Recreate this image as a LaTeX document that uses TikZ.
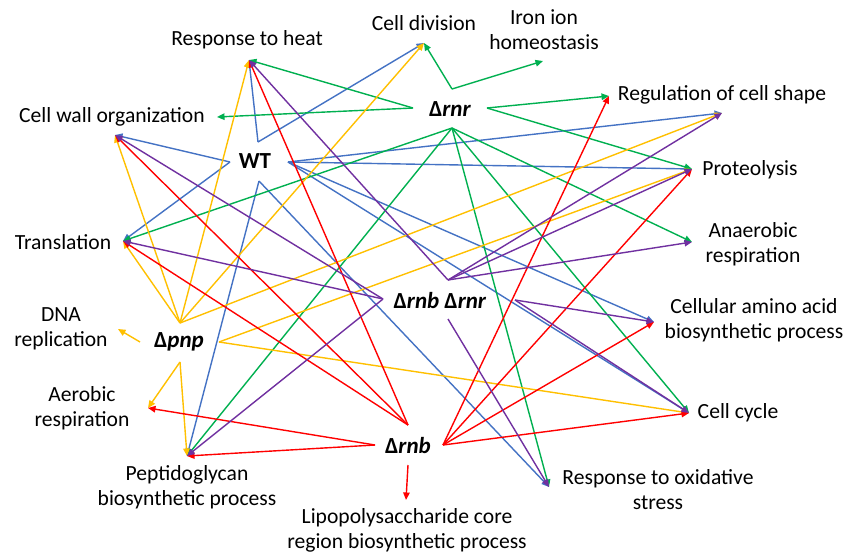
\documentclass[tikz,border=0pt]{standalone}
\usepackage{fontspec}
\setmainfont{Carlito}
\usetikzlibrary{arrows.meta}
\definecolor{cBlue}{RGB}{68,114,196}
\definecolor{cGreen}{RGB}{0,176,80}
\definecolor{cYellow}{RGB}{255,192,0}
\definecolor{cRed}{RGB}{255,0,0}
\definecolor{cPurple}{RGB}{112,48,160}
\tikzset{
  lbl/.style={inner sep=0pt, align=center, font=\fontsize{21.6}{25}\selectfont, text=black},
  src/.style={inner sep=0pt, font=\fontsize{23}{27}\selectfont\bfseries, text=black},
  link/.style={line width=1.4pt, -{Triangle[length=7.5pt,width=6.5pt]}},
  wtl/.style={link, draw=cBlue},
  rnrl/.style={link, draw=cGreen},
  pnpl/.style={link, draw=cYellow},
  rnbl/.style={link, draw=cRed},
  ddl/.style={link, draw=cPurple},
}
\begin{document}
\begin{tikzpicture}[x=1pt,y=-1pt]
\useasboundingbox (0,0) rectangle (845,554);
\fill[white] (0,0) rectangle (845,554);

% target labels
\node[lbl] (heat) at (247,40) {Response to heat};
\node[lbl] (celldiv) at (424,23) {Cell division};
\node[lbl] (iron) at (544,29.5) {Iron ion\\homeostasis};
\node[lbl] (cellwall) at (112,117) {Cell wall organization};
\node[lbl] (regshape) at (722,95) {Regulation of cell shape};
\node[lbl] (proteo) at (750,170) {Proteolysis};
\node[lbl] (transl) at (63,242) {Translation};
\node[lbl] (anaer) at (753,244.5) {Anaerobic\\respiration};
\node[lbl] (dna) at (61,328.5) {DNA\\replication};
\node[lbl] (amino) at (754,320.5) {Cellular amino acid\\biosynthetic process};
\node[lbl] (aerob) at (82,408.5) {Aerobic\\respiration};
\node[lbl] (cycle) at (738,413) {Cell cycle};
\node[lbl] (peptido) at (187,487.5) {Peptidoglycan\\biosynthetic process};
\node[lbl] (oxid) at (658,489.5) {Response to oxidative\\stress};
\node[lbl] (lps) at (407,530) {Lipopolysaccharide core\\region biosynthetic process};

% source labels
\node[src] (wt) at (255,161) {WT};
\node[src] (rnr) at (450,109) {Δ\textit{rnr}};
\node[src] (dd) at (440,301) {Δ\textit{rnb} Δ\textit{rnr}};
\node[src] (pnp) at (179,342) {Δ\textit{pnp}};
\node[src] (rnb) at (408,446) {Δ\textit{rnb}};

% source ports
\coordinate (wtT) at (258,142); \coordinate (wtL) at (230,162);
\coordinate (wtR) at (288,162); \coordinate (wtB) at (259,181);
\coordinate (rnrT) at (452,89); \coordinate (rnrL) at (413,108);
\coordinate (rnrR) at (487,108); \coordinate (rnrB) at (452,128);
\coordinate (dT) at (448,280); \coordinate (dL) at (383,299);
\coordinate (dR) at (515,300); \coordinate (dB) at (448,319);
\coordinate (pnpT) at (180,323); \coordinate (pnpL) at (140,342);
\coordinate (pnpR) at (219,342); \coordinate (pnpB) at (180,362);
\coordinate (rnbT) at (408,425); \coordinate (rnbL) at (375,445);
\coordinate (rnbR) at (443,445); \coordinate (rnbB) at (408,465);

% target tips
\coordinate (heatIn) at (249,60);
\coordinate (celldivIn) at (424,43);
\coordinate (ironIn) at (543,61);
\coordinate (cellwallIn) at (115,135);
\coordinate (cellwallR) at (217,117);
\coordinate (regshapeIn) at (722,113);
\coordinate (regshapeL) at (609,96);
\coordinate (proteoIn) at (692,169);
\coordinate (translIn) at (123,241);
\coordinate (dnaIn) at (118,329);
\coordinate (anaerIn) at (692,242);
\coordinate (aminoIn) at (654,322);
\coordinate (aerobIn) at (148,408);
\coordinate (peptidoIn) at (187,456);
\coordinate (cycleIn) at (689,413);
\coordinate (oxidIn) at (549,487);
\coordinate (lpsIn) at (406,500);

% WT (blue)
\draw[wtl] (wtT) -- (heatIn);
\draw[wtl] (wtT) -- (celldivIn);
\draw[wtl] (wtL) -- (cellwallIn);
\draw[wtl] (wtL) -- (translIn);
\draw[wtl] (wtR) -- (regshapeIn);
\draw[wtl] (wtR) -- (proteoIn);
\draw[wtl] (wtR) -- (aminoIn);
\draw[wtl] (wtR) -- (cycleIn);
\draw[wtl] (wtB) -- (peptidoIn);
\draw[wtl] (wtB) -- (oxidIn);

% Δrnr (green)
\draw[rnrl] (rnrT) -- (celldivIn);
\draw[rnrl] (rnrT) -- (ironIn);
\draw[rnrl] (rnrL) -- (heatIn);
\draw[rnrl] (rnrL) -- (cellwallR);
\draw[rnrl] (rnrR) -- (regshapeL);
\draw[rnrl] (rnrR) -- (proteoIn);
\draw[rnrl] (rnrB) -- (translIn);
\draw[rnrl] (rnrB) -- (peptidoIn);
\draw[rnrl] (rnrB) -- (anaerIn);
\draw[rnrl] (rnrB) -- (cycleIn);
\draw[rnrl] (rnrB) -- (oxidIn);

% Δpnp (yellow)
\draw[pnpl] (pnpT) -- (translIn);
\draw[pnpl] (pnpT) -- (cellwallIn);
\draw[pnpl] (pnpT) -- (heatIn);
\draw[pnpl] (pnpT) -- (celldivIn);
\draw[pnpl] (pnpT) -- (regshapeIn);
\draw[pnpl] (pnpR) -- (proteoIn);
\draw[pnpl] (pnpR) -- (cycleIn);
\draw[pnpl] (pnpL) -- (dnaIn);
\draw[pnpl] (pnpB) -- (aerobIn);
\draw[pnpl] (pnpB) -- (peptidoIn);

% Δrnb (red)
\draw[rnbl] (rnbT) -- (heatIn);
\draw[rnbl] (rnbT) -- (cellwallIn);
\draw[rnbl] (rnbT) -- (translIn);
\draw[rnbl] (rnbL) -- (aerobIn);
\draw[rnbl] (rnbL) -- (peptidoIn);
\draw[rnbl] (rnbR) -- (regshapeL);
\draw[rnbl] (rnbR) -- (proteoIn);
\draw[rnbl] (rnbR) -- (aminoIn);
\draw[rnbl] (rnbR) -- (cycleIn);
\draw[rnbl] (rnbB) -- (lpsIn);

% Δrnb Δrnr (purple)
\draw[ddl] (dT) -- (heatIn);
\draw[ddl] (dT) -- (regshapeIn);
\draw[ddl] (dT) -- (proteoIn);
\draw[ddl] (dT) -- (anaerIn);
\draw[ddl] (dL) -- (cellwallIn);
\draw[ddl] (dL) -- (translIn);
\draw[ddl] (dL) -- (peptidoIn);
\draw[ddl] (dR) -- (aminoIn);
\draw[ddl] (dR) -- (cycleIn);
\draw[ddl] (dB) -- (oxidIn);
\end{tikzpicture}
\end{document}
